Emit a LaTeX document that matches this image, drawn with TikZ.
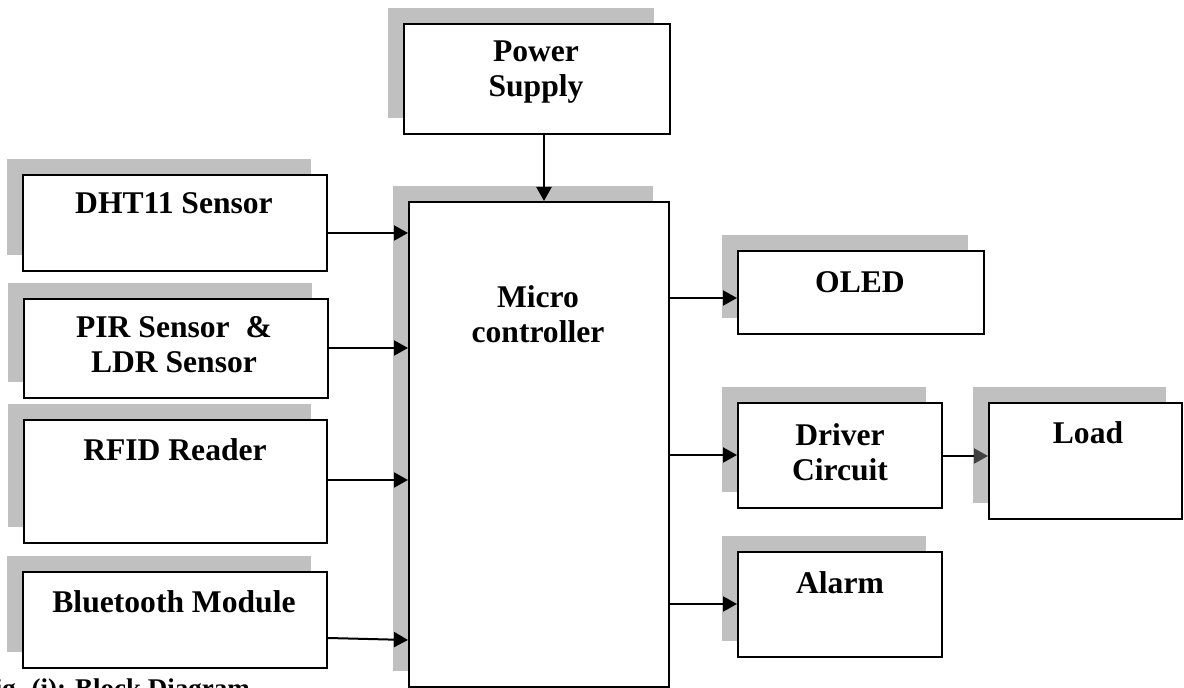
\documentclass[tikz,border=0pt]{standalone}
\usepackage{fontspec}
\setmainfont{Liberation Serif}
\usetikzlibrary{arrows.meta,shadows}
\definecolor{shade}{RGB}{192,192,192}
\definecolor{tipgray}{RGB}{64,64,64}

\tikzset{
  blk/.style={draw=black, line width=1pt, fill=white, rectangle, inner sep=0pt,
    anchor=north west,
    general shadow={fill=shade, shadow xshift=-8pt, shadow yshift=8pt}},
  lbl/.style={font=\bfseries\fontsize{15.8}{17.5}\selectfont, align=center, inner sep=0pt},
  figcap/.style={font=\bfseries\fontsize{13.5}{16}\selectfont, inner sep=0pt},
  arr/.style={line width=1pt, -{Triangle[length=7pt,width=7.5pt]}},
  arrg/.style={line width=1pt, -{Triangle[length=7pt,width=7.5pt,color=tipgray,fill=tipgray]}},
}

\begin{document}
\begin{tikzpicture}[x=0.5pt,y=-0.5pt]
\useasboundingbox (0,0) rectangle (1184,688);

% blocks
\node[blk, minimum width=133pt, minimum height=55pt]   (ps)   at (403,23)  {};
\node[blk, minimum width=130pt, minimum height=242.5pt] (mc)  at (408,201) {};
\node[blk, minimum width=152pt, minimum height=48pt]   (dht)  at (22,174)  {};
\node[blk, minimum width=152pt, minimum height=49.5pt] (pir)  at (23,298)  {};
\node[blk, minimum width=151.5pt, minimum height=61.5pt] (rfid) at (23,419) {};
\node[blk, minimum width=152pt, minimum height=48pt]   (bt)   at (22,571)  {};
\node[blk, minimum width=123pt, minimum height=41.5pt] (oled) at (737,250) {};
\node[blk, minimum width=102pt, minimum height=52.5pt] (drv)  at (737,402) {};
\node[blk, minimum width=102pt, minimum height=52.5pt] (alm)  at (737,551) {};
\node[blk, minimum width=96.5pt, minimum height=58pt]  (load) at (988,402) {};

% block labels
\node[lbl] (tps)   at (536,72)   {Power\\Supply};
\node[lbl] (tmc)   at (538,314)  {Micro\\controller};
\node[lbl] (tdht)  at (174,203)  {DHT11 Sensor};
\node[lbl] (tpir)  at (174,345)  {PIR Sensor\ \ \&\\LDR Sensor};
\node[lbl] (trfid) at (175,450)  {RFID Reader};
\node[lbl] (tbt)   at (174,602)  {Bluetooth Module};
\node[lbl] (toled) at (860,282)  {OLED};
\node[lbl] (tdrv)  at (840,452)  {Driver\\Circuit};
\node[lbl] (talm)  at (840,583)  {Alarm};
\node[lbl] (tload) at (1088,433) {Load};

% connectors
\draw[arr] ([xshift=3.5pt]ps.south) -- ([xshift=3.5pt]ps.south |- mc.north);
\draw[arr] (dht.east |- 0,233)  -- (mc.west |- 0,233);
\draw[arr] (pir.east |- 0,348)  -- (mc.west |- 0,348);
\draw[arr] (rfid.east |- 0,480) -- (mc.west |- 0,480);
\draw[arr] (bt.east |- 0,638)   -- (mc.west |- 0,640);
\draw[arr] (mc.east |- 0,298)   -- (oled.west |- 0,298);
\draw[arr] (mc.east |- 0,455)   -- (drv.west |- 0,455);
\draw[arr] (mc.east |- 0,604)   -- (alm.west |- 0,604);
\draw[arrg] (drv.east |- 0,456) -- (load.west |- 0,456);

% caption
\node[figcap, anchor=base west] (caption) at (-22,698) {Fig. (i): Block Diagram};
\end{tikzpicture}
\end{document}
